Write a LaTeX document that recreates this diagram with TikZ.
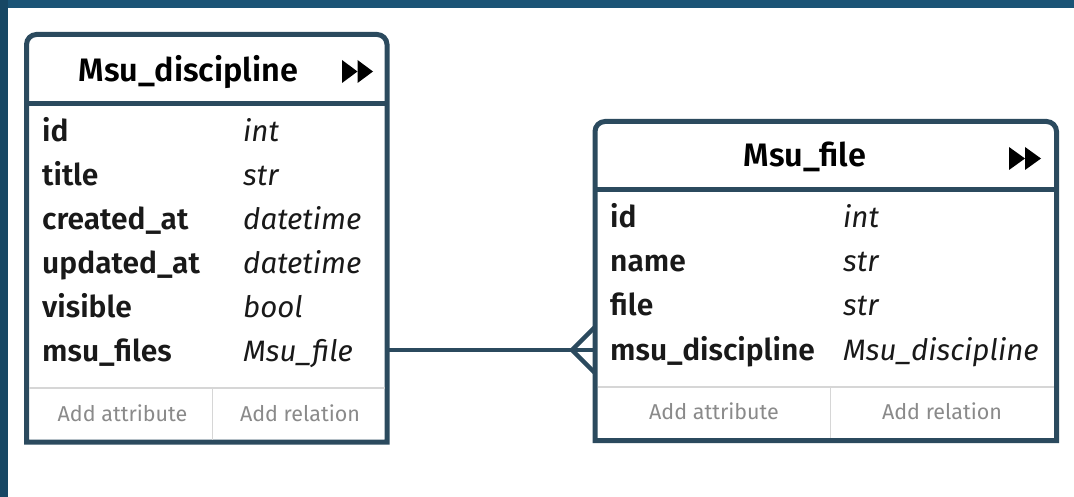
\documentclass[tikz,border=0pt]{standalone}
\usepackage{fontspec}
\setmainfont{Fira Sans}[BoldFont={Fira Sans SemiBold}]

\definecolor{edge}{HTML}{2B4A5E}
\definecolor{band}{HTML}{1B5476}
\definecolor{rule}{HTML}{D6D6D6}
\definecolor{hint}{HTML}{8A8A8A}

\tikzset{
  box/.style={draw=edge, fill=white, line width=5},
  attr/.style={anchor=base west, inner sep=0, text=black!90, font=\fontsize{30}{32}\selectfont\bfseries},
  kind/.style={anchor=base west, inner sep=0, text=black!90, font=\fontsize{29.5}{32}\selectfont\itshape},
  head/.style={anchor=base, inner sep=0, font=\fontsize{32.5}{34}\selectfont\bfseries},
  hint/.style={anchor=base, inner sep=0, text=hint, font=\fontsize{21.5}{24}\selectfont}
}

\begin{document}
\begin{tikzpicture}[x=1pt,y=-1pt]
\useasboundingbox (0,0) rectangle (1074,497);
\fill[white] (0,0) rectangle (1074,497);
\fill[band] (0,0) rectangle (1074,8);
\fill[band!85!black] (0,0) rectangle (8,497);

% Msu_discipline
\draw[box] (26.5,442) [rounded corners=10] -- (26.5,34.5) -- (387,34.5) [sharp corners] -- (387,442) -- cycle;
\draw[edge, line width=5] (26.5,103.5) -- (387,103.5);
\node[head] (d-title) at (188.5,81.7) {Msu\_discipline};
\fill (342,60) -- (357.5,71.5) -- (342,83) -- cycle;
\fill (357.5,60) -- (373,71.5) -- (357.5,83) -- cycle;

\foreach \name/\type [count=\i from 0] in {id/int, title/str, created\_at/datetime,
    updated\_at/datetime, visible/bool, msu\_files/Msu\_file}
{
  \node[attr] (d-name-\i) at (42,141.5+44*\i) {\name};
  \node[kind] (d-type-\i) at (243,141.5+44*\i) {\type};
}

\draw[rule, line width=1.5] (29,388) -- (385,388);
\draw[rule, line width=1.5] (212.5,388) -- (212.5,440);
\node[hint] (d-addattr) at (122.5,421.7) {Add attribute};
\node[hint] (d-addrel) at (300,421.7) {Add relation};

% Msu_file
\draw[box] (595,440.5) [rounded corners=10] -- (595,121.5) -- (1056.5,121.5) [sharp corners] -- (1056.5,440.5) -- cycle;
\draw[edge, line width=5] (595,190) -- (1056.5,190);
\node[head] (f-title) at (805,166.7) {Msu\_file};
\fill (1009,147) -- (1025,158.5) -- (1009,170) -- cycle;
\fill (1025,147) -- (1041,158.5) -- (1025,170) -- cycle;

\foreach \name/\type [count=\i from 0] in {id/int, name/str, file/str,
    msu\_discipline/Msu\_discipline}
{
  \node[attr] (f-name-\i) at (610,228+44*\i) {\name};
  \node[kind] (f-type-\i) at (843,228+44*\i) {\type};
}

\draw[rule, line width=1.5] (597.5,387) -- (1054,387);
\draw[rule, line width=1.5] (830.7,387) -- (830.7,438);
\node[hint] (f-addattr) at (714,419) {Add attribute};
\node[hint] (f-addrel) at (942,419) {Add relation};

% one discipline -- many files
\coordinate (d-out) at (387,350);
\coordinate (f-in) at (595,350);
\draw[edge, line width=4.5] (d-out) -- (f-in);
\draw[edge, line width=4.5] (f-in) ++(0,-23) -- ++(-23,23) -- ++(23,23);
\end{tikzpicture}
\end{document}
